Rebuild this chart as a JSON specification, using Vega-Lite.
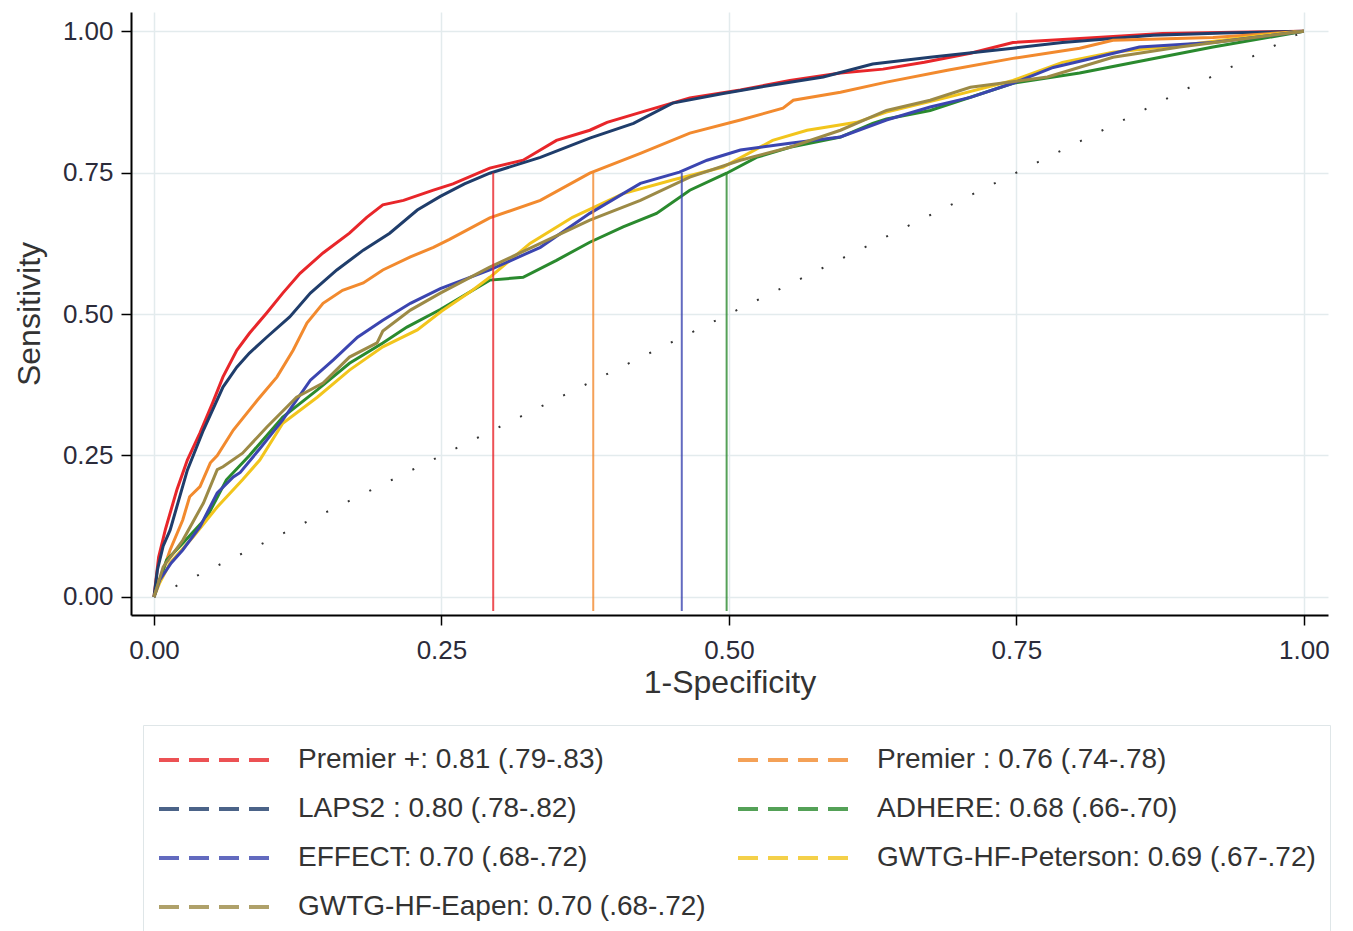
{
  "$schema": "https://vega.github.io/schema/vega-lite/v6.json",
  "width": 1197,
  "height": 603,
  "autosize": {"type": "none"},
  "padding": {"left": 131, "top": 12, "right": 25, "bottom": 316},
  "background": "white",
  "config": {"view": {"stroke": null}, "font": "Liberation Sans"},
  "datasets": {
    "curves": [
      {"m": "Premier +: 0.81 (.79-.83)", "x": 0, "y": 0},
      {"m": "Premier +: 0.81 (.79-.83)", "x": 0.004, "y": 0.07},
      {"m": "Premier +: 0.81 (.79-.83)", "x": 0.01, "y": 0.12},
      {"m": "Premier +: 0.81 (.79-.83)", "x": 0.02, "y": 0.19},
      {"m": "Premier +: 0.81 (.79-.83)", "x": 0.029, "y": 0.242},
      {"m": "Premier +: 0.81 (.79-.83)", "x": 0.04, "y": 0.29},
      {"m": "Premier +: 0.81 (.79-.83)", "x": 0.051, "y": 0.343},
      {"m": "Premier +: 0.81 (.79-.83)", "x": 0.06, "y": 0.389},
      {"m": "Premier +: 0.81 (.79-.83)", "x": 0.072, "y": 0.436},
      {"m": "Premier +: 0.81 (.79-.83)", "x": 0.083, "y": 0.466},
      {"m": "Premier +: 0.81 (.79-.83)", "x": 0.098, "y": 0.502},
      {"m": "Premier +: 0.81 (.79-.83)", "x": 0.112, "y": 0.537},
      {"m": "Premier +: 0.81 (.79-.83)", "x": 0.127, "y": 0.572},
      {"m": "Premier +: 0.81 (.79-.83)", "x": 0.147, "y": 0.608},
      {"m": "Premier +: 0.81 (.79-.83)", "x": 0.17, "y": 0.643},
      {"m": "Premier +: 0.81 (.79-.83)", "x": 0.185, "y": 0.671},
      {"m": "Premier +: 0.81 (.79-.83)", "x": 0.199, "y": 0.693},
      {"m": "Premier +: 0.81 (.79-.83)", "x": 0.217, "y": 0.701},
      {"m": "Premier +: 0.81 (.79-.83)", "x": 0.243, "y": 0.719},
      {"m": "Premier +: 0.81 (.79-.83)", "x": 0.26, "y": 0.73},
      {"m": "Premier +: 0.81 (.79-.83)", "x": 0.292, "y": 0.758},
      {"m": "Premier +: 0.81 (.79-.83)", "x": 0.321, "y": 0.772},
      {"m": "Premier +: 0.81 (.79-.83)", "x": 0.35, "y": 0.807},
      {"m": "Premier +: 0.81 (.79-.83)", "x": 0.379, "y": 0.825},
      {"m": "Premier +: 0.81 (.79-.83)", "x": 0.394, "y": 0.839},
      {"m": "Premier +: 0.81 (.79-.83)", "x": 0.429, "y": 0.86},
      {"m": "Premier +: 0.81 (.79-.83)", "x": 0.466, "y": 0.882},
      {"m": "Premier +: 0.81 (.79-.83)", "x": 0.51, "y": 0.896},
      {"m": "Premier +: 0.81 (.79-.83)", "x": 0.553, "y": 0.913},
      {"m": "Premier +: 0.81 (.79-.83)", "x": 0.597, "y": 0.926},
      {"m": "Premier +: 0.81 (.79-.83)", "x": 0.634, "y": 0.933},
      {"m": "Premier +: 0.81 (.79-.83)", "x": 0.67, "y": 0.945},
      {"m": "Premier +: 0.81 (.79-.83)", "x": 0.71, "y": 0.961},
      {"m": "Premier +: 0.81 (.79-.83)", "x": 0.747, "y": 0.98},
      {"m": "Premier +: 0.81 (.79-.83)", "x": 0.82, "y": 0.989},
      {"m": "Premier +: 0.81 (.79-.83)", "x": 0.877, "y": 0.996},
      {"m": "Premier +: 0.81 (.79-.83)", "x": 0.94, "y": 0.998},
      {"m": "Premier +: 0.81 (.79-.83)", "x": 1, "y": 1},

      {"m": "LAPS2 : 0.80 (.78-.82)", "x": 0, "y": 0},
      {"m": "LAPS2 : 0.80 (.78-.82)", "x": 0.003, "y": 0.048},
      {"m": "LAPS2 : 0.80 (.78-.82)", "x": 0.008, "y": 0.09},
      {"m": "LAPS2 : 0.80 (.78-.82)", "x": 0.014, "y": 0.118},
      {"m": "LAPS2 : 0.80 (.78-.82)", "x": 0.029, "y": 0.224},
      {"m": "LAPS2 : 0.80 (.78-.82)", "x": 0.043, "y": 0.295},
      {"m": "LAPS2 : 0.80 (.78-.82)", "x": 0.06, "y": 0.371},
      {"m": "LAPS2 : 0.80 (.78-.82)", "x": 0.072, "y": 0.406},
      {"m": "LAPS2 : 0.80 (.78-.82)", "x": 0.083, "y": 0.431},
      {"m": "LAPS2 : 0.80 (.78-.82)", "x": 0.098, "y": 0.459},
      {"m": "LAPS2 : 0.80 (.78-.82)", "x": 0.118, "y": 0.495},
      {"m": "LAPS2 : 0.80 (.78-.82)", "x": 0.136, "y": 0.537},
      {"m": "LAPS2 : 0.80 (.78-.82)", "x": 0.159, "y": 0.578},
      {"m": "LAPS2 : 0.80 (.78-.82)", "x": 0.182, "y": 0.613},
      {"m": "LAPS2 : 0.80 (.78-.82)", "x": 0.205, "y": 0.643},
      {"m": "LAPS2 : 0.80 (.78-.82)", "x": 0.229, "y": 0.684},
      {"m": "LAPS2 : 0.80 (.78-.82)", "x": 0.249, "y": 0.708},
      {"m": "LAPS2 : 0.80 (.78-.82)", "x": 0.27, "y": 0.73},
      {"m": "LAPS2 : 0.80 (.78-.82)", "x": 0.292, "y": 0.749},
      {"m": "LAPS2 : 0.80 (.78-.82)", "x": 0.336, "y": 0.777},
      {"m": "LAPS2 : 0.80 (.78-.82)", "x": 0.379, "y": 0.811},
      {"m": "LAPS2 : 0.80 (.78-.82)", "x": 0.417, "y": 0.837},
      {"m": "LAPS2 : 0.80 (.78-.82)", "x": 0.451, "y": 0.873},
      {"m": "LAPS2 : 0.80 (.78-.82)", "x": 0.495, "y": 0.89},
      {"m": "LAPS2 : 0.80 (.78-.82)", "x": 0.538, "y": 0.905},
      {"m": "LAPS2 : 0.80 (.78-.82)", "x": 0.582, "y": 0.919},
      {"m": "LAPS2 : 0.80 (.78-.82)", "x": 0.625, "y": 0.942},
      {"m": "LAPS2 : 0.80 (.78-.82)", "x": 0.675, "y": 0.954},
      {"m": "LAPS2 : 0.80 (.78-.82)", "x": 0.747, "y": 0.97},
      {"m": "LAPS2 : 0.80 (.78-.82)", "x": 0.79, "y": 0.98},
      {"m": "LAPS2 : 0.80 (.78-.82)", "x": 0.869, "y": 0.993},
      {"m": "LAPS2 : 0.80 (.78-.82)", "x": 0.93, "y": 0.997},
      {"m": "LAPS2 : 0.80 (.78-.82)", "x": 1, "y": 1},

      {"m": "Premier : 0.76 (.74-.78)", "x": 0, "y": 0},
      {"m": "Premier : 0.76 (.74-.78)", "x": 0.005, "y": 0.03},
      {"m": "Premier : 0.76 (.74-.78)", "x": 0.014, "y": 0.083},
      {"m": "Premier : 0.76 (.74-.78)", "x": 0.025, "y": 0.136},
      {"m": "Premier : 0.76 (.74-.78)", "x": 0.031, "y": 0.177},
      {"m": "Premier : 0.76 (.74-.78)", "x": 0.04, "y": 0.195},
      {"m": "Premier : 0.76 (.74-.78)", "x": 0.049, "y": 0.237},
      {"m": "Premier : 0.76 (.74-.78)", "x": 0.055, "y": 0.25},
      {"m": "Premier : 0.76 (.74-.78)", "x": 0.069, "y": 0.295},
      {"m": "Premier : 0.76 (.74-.78)", "x": 0.09, "y": 0.348},
      {"m": "Premier : 0.76 (.74-.78)", "x": 0.107, "y": 0.389},
      {"m": "Premier : 0.76 (.74-.78)", "x": 0.121, "y": 0.436},
      {"m": "Premier : 0.76 (.74-.78)", "x": 0.133, "y": 0.484},
      {"m": "Premier : 0.76 (.74-.78)", "x": 0.147, "y": 0.519},
      {"m": "Premier : 0.76 (.74-.78)", "x": 0.164, "y": 0.542},
      {"m": "Premier : 0.76 (.74-.78)", "x": 0.182, "y": 0.555},
      {"m": "Premier : 0.76 (.74-.78)", "x": 0.199, "y": 0.578},
      {"m": "Premier : 0.76 (.74-.78)", "x": 0.223, "y": 0.601},
      {"m": "Premier : 0.76 (.74-.78)", "x": 0.243, "y": 0.618},
      {"m": "Premier : 0.76 (.74-.78)", "x": 0.257, "y": 0.632},
      {"m": "Premier : 0.76 (.74-.78)", "x": 0.292, "y": 0.67},
      {"m": "Premier : 0.76 (.74-.78)", "x": 0.336, "y": 0.701},
      {"m": "Premier : 0.76 (.74-.78)", "x": 0.379, "y": 0.749},
      {"m": "Premier : 0.76 (.74-.78)", "x": 0.423, "y": 0.784},
      {"m": "Premier : 0.76 (.74-.78)", "x": 0.466, "y": 0.82},
      {"m": "Premier : 0.76 (.74-.78)", "x": 0.51, "y": 0.843},
      {"m": "Premier : 0.76 (.74-.78)", "x": 0.547, "y": 0.864},
      {"m": "Premier : 0.76 (.74-.78)", "x": 0.556, "y": 0.878},
      {"m": "Premier : 0.76 (.74-.78)", "x": 0.597, "y": 0.892},
      {"m": "Premier : 0.76 (.74-.78)", "x": 0.637, "y": 0.91},
      {"m": "Premier : 0.76 (.74-.78)", "x": 0.69, "y": 0.931},
      {"m": "Premier : 0.76 (.74-.78)", "x": 0.747, "y": 0.952},
      {"m": "Premier : 0.76 (.74-.78)", "x": 0.805, "y": 0.97},
      {"m": "Premier : 0.76 (.74-.78)", "x": 0.834, "y": 0.984},
      {"m": "Premier : 0.76 (.74-.78)", "x": 0.921, "y": 0.989},
      {"m": "Premier : 0.76 (.74-.78)", "x": 1, "y": 1},

      {"m": "ADHERE: 0.68 (.66-.70)", "x": 0, "y": 0},
      {"m": "ADHERE: 0.68 (.66-.70)", "x": 0.011, "y": 0.065},
      {"m": "ADHERE: 0.68 (.66-.70)", "x": 0.025, "y": 0.095},
      {"m": "ADHERE: 0.68 (.66-.70)", "x": 0.046, "y": 0.141},
      {"m": "ADHERE: 0.68 (.66-.70)", "x": 0.063, "y": 0.207},
      {"m": "ADHERE: 0.68 (.66-.70)", "x": 0.083, "y": 0.25},
      {"m": "ADHERE: 0.68 (.66-.70)", "x": 0.112, "y": 0.318},
      {"m": "ADHERE: 0.68 (.66-.70)", "x": 0.142, "y": 0.366},
      {"m": "ADHERE: 0.68 (.66-.70)", "x": 0.17, "y": 0.413},
      {"m": "ADHERE: 0.68 (.66-.70)", "x": 0.199, "y": 0.449},
      {"m": "ADHERE: 0.68 (.66-.70)", "x": 0.22, "y": 0.477},
      {"m": "ADHERE: 0.68 (.66-.70)", "x": 0.249, "y": 0.508},
      {"m": "ADHERE: 0.68 (.66-.70)", "x": 0.292, "y": 0.56},
      {"m": "ADHERE: 0.68 (.66-.70)", "x": 0.321, "y": 0.565},
      {"m": "ADHERE: 0.68 (.66-.70)", "x": 0.35, "y": 0.595},
      {"m": "ADHERE: 0.68 (.66-.70)", "x": 0.379, "y": 0.627},
      {"m": "ADHERE: 0.68 (.66-.70)", "x": 0.408, "y": 0.654},
      {"m": "ADHERE: 0.68 (.66-.70)", "x": 0.437, "y": 0.678},
      {"m": "ADHERE: 0.68 (.66-.70)", "x": 0.466, "y": 0.719},
      {"m": "ADHERE: 0.68 (.66-.70)", "x": 0.498, "y": 0.749},
      {"m": "ADHERE: 0.68 (.66-.70)", "x": 0.524, "y": 0.777},
      {"m": "ADHERE: 0.68 (.66-.70)", "x": 0.553, "y": 0.795},
      {"m": "ADHERE: 0.68 (.66-.70)", "x": 0.597, "y": 0.813},
      {"m": "ADHERE: 0.68 (.66-.70)", "x": 0.625, "y": 0.837},
      {"m": "ADHERE: 0.68 (.66-.70)", "x": 0.637, "y": 0.845},
      {"m": "ADHERE: 0.68 (.66-.70)", "x": 0.675, "y": 0.86},
      {"m": "ADHERE: 0.68 (.66-.70)", "x": 0.747, "y": 0.908},
      {"m": "ADHERE: 0.68 (.66-.70)", "x": 0.805, "y": 0.926},
      {"m": "ADHERE: 0.68 (.66-.70)", "x": 0.863, "y": 0.949},
      {"m": "ADHERE: 0.68 (.66-.70)", "x": 0.921, "y": 0.972},
      {"m": "ADHERE: 0.68 (.66-.70)", "x": 1, "y": 1},

      {"m": "GWTG-HF-Peterson: 0.69 (.67-.72)", "x": 0, "y": 0},
      {"m": "GWTG-HF-Peterson: 0.69 (.67-.72)", "x": 0.005, "y": 0.025},
      {"m": "GWTG-HF-Peterson: 0.69 (.67-.72)", "x": 0.014, "y": 0.06},
      {"m": "GWTG-HF-Peterson: 0.69 (.67-.72)", "x": 0.034, "y": 0.106},
      {"m": "GWTG-HF-Peterson: 0.69 (.67-.72)", "x": 0.055, "y": 0.159},
      {"m": "GWTG-HF-Peterson: 0.69 (.67-.72)", "x": 0.077, "y": 0.207},
      {"m": "GWTG-HF-Peterson: 0.69 (.67-.72)", "x": 0.092, "y": 0.242},
      {"m": "GWTG-HF-Peterson: 0.69 (.67-.72)", "x": 0.112, "y": 0.307},
      {"m": "GWTG-HF-Peterson: 0.69 (.67-.72)", "x": 0.142, "y": 0.353},
      {"m": "GWTG-HF-Peterson: 0.69 (.67-.72)", "x": 0.17, "y": 0.401},
      {"m": "GWTG-HF-Peterson: 0.69 (.67-.72)", "x": 0.199, "y": 0.442},
      {"m": "GWTG-HF-Peterson: 0.69 (.67-.72)", "x": 0.229, "y": 0.472},
      {"m": "GWTG-HF-Peterson: 0.69 (.67-.72)", "x": 0.25, "y": 0.505},
      {"m": "GWTG-HF-Peterson: 0.69 (.67-.72)", "x": 0.277, "y": 0.542},
      {"m": "GWTG-HF-Peterson: 0.69 (.67-.72)", "x": 0.292, "y": 0.565},
      {"m": "GWTG-HF-Peterson: 0.69 (.67-.72)", "x": 0.327, "y": 0.625},
      {"m": "GWTG-HF-Peterson: 0.69 (.67-.72)", "x": 0.364, "y": 0.671},
      {"m": "GWTG-HF-Peterson: 0.69 (.67-.72)", "x": 0.408, "y": 0.713},
      {"m": "GWTG-HF-Peterson: 0.69 (.67-.72)", "x": 0.451, "y": 0.737},
      {"m": "GWTG-HF-Peterson: 0.69 (.67-.72)", "x": 0.495, "y": 0.76},
      {"m": "GWTG-HF-Peterson: 0.69 (.67-.72)", "x": 0.538, "y": 0.807},
      {"m": "GWTG-HF-Peterson: 0.69 (.67-.72)", "x": 0.568, "y": 0.825},
      {"m": "GWTG-HF-Peterson: 0.69 (.67-.72)", "x": 0.611, "y": 0.839},
      {"m": "GWTG-HF-Peterson: 0.69 (.67-.72)", "x": 0.637, "y": 0.857},
      {"m": "GWTG-HF-Peterson: 0.69 (.67-.72)", "x": 0.69, "y": 0.883},
      {"m": "GWTG-HF-Peterson: 0.69 (.67-.72)", "x": 0.747, "y": 0.913},
      {"m": "GWTG-HF-Peterson: 0.69 (.67-.72)", "x": 0.79, "y": 0.945},
      {"m": "GWTG-HF-Peterson: 0.69 (.67-.72)", "x": 0.834, "y": 0.963},
      {"m": "GWTG-HF-Peterson: 0.69 (.67-.72)", "x": 0.892, "y": 0.975},
      {"m": "GWTG-HF-Peterson: 0.69 (.67-.72)", "x": 0.964, "y": 0.993},
      {"m": "GWTG-HF-Peterson: 0.69 (.67-.72)", "x": 1, "y": 1},

      {"m": "EFFECT: 0.70 (.68-.72)", "x": 0, "y": 0},
      {"m": "EFFECT: 0.70 (.68-.72)", "x": 0.005, "y": 0.03},
      {"m": "EFFECT: 0.70 (.68-.72)", "x": 0.015, "y": 0.06},
      {"m": "EFFECT: 0.70 (.68-.72)", "x": 0.025, "y": 0.083},
      {"m": "EFFECT: 0.70 (.68-.72)", "x": 0.04, "y": 0.124},
      {"m": "EFFECT: 0.70 (.68-.72)", "x": 0.055, "y": 0.184},
      {"m": "EFFECT: 0.70 (.68-.72)", "x": 0.069, "y": 0.212},
      {"m": "EFFECT: 0.70 (.68-.72)", "x": 0.075, "y": 0.22},
      {"m": "EFFECT: 0.70 (.68-.72)", "x": 0.092, "y": 0.262},
      {"m": "EFFECT: 0.70 (.68-.72)", "x": 0.112, "y": 0.313},
      {"m": "EFFECT: 0.70 (.68-.72)", "x": 0.136, "y": 0.383},
      {"m": "EFFECT: 0.70 (.68-.72)", "x": 0.156, "y": 0.419},
      {"m": "EFFECT: 0.70 (.68-.72)", "x": 0.177, "y": 0.459},
      {"m": "EFFECT: 0.70 (.68-.72)", "x": 0.199, "y": 0.489},
      {"m": "EFFECT: 0.70 (.68-.72)", "x": 0.223, "y": 0.519},
      {"m": "EFFECT: 0.70 (.68-.72)", "x": 0.249, "y": 0.545},
      {"m": "EFFECT: 0.70 (.68-.72)", "x": 0.292, "y": 0.578},
      {"m": "EFFECT: 0.70 (.68-.72)", "x": 0.336, "y": 0.618},
      {"m": "EFFECT: 0.70 (.68-.72)", "x": 0.379, "y": 0.678},
      {"m": "EFFECT: 0.70 (.68-.72)", "x": 0.423, "y": 0.731},
      {"m": "EFFECT: 0.70 (.68-.72)", "x": 0.457, "y": 0.751},
      {"m": "EFFECT: 0.70 (.68-.72)", "x": 0.481, "y": 0.772},
      {"m": "EFFECT: 0.70 (.68-.72)", "x": 0.51, "y": 0.79},
      {"m": "EFFECT: 0.70 (.68-.72)", "x": 0.553, "y": 0.802},
      {"m": "EFFECT: 0.70 (.68-.72)", "x": 0.597, "y": 0.813},
      {"m": "EFFECT: 0.70 (.68-.72)", "x": 0.637, "y": 0.843},
      {"m": "EFFECT: 0.70 (.68-.72)", "x": 0.675, "y": 0.866},
      {"m": "EFFECT: 0.70 (.68-.72)", "x": 0.71, "y": 0.883},
      {"m": "EFFECT: 0.70 (.68-.72)", "x": 0.747, "y": 0.908},
      {"m": "EFFECT: 0.70 (.68-.72)", "x": 0.782, "y": 0.936},
      {"m": "EFFECT: 0.70 (.68-.72)", "x": 0.82, "y": 0.954},
      {"m": "EFFECT: 0.70 (.68-.72)", "x": 0.857, "y": 0.972},
      {"m": "EFFECT: 0.70 (.68-.72)", "x": 0.921, "y": 0.98},
      {"m": "EFFECT: 0.70 (.68-.72)", "x": 1, "y": 1},

      {"m": "GWTG-HF-Eapen: 0.70 (.68-.72)", "x": 0, "y": 0},
      {"m": "GWTG-HF-Eapen: 0.70 (.68-.72)", "x": 0.008, "y": 0.053},
      {"m": "GWTG-HF-Eapen: 0.70 (.68-.72)", "x": 0.025, "y": 0.1},
      {"m": "GWTG-HF-Eapen: 0.70 (.68-.72)", "x": 0.043, "y": 0.166},
      {"m": "GWTG-HF-Eapen: 0.70 (.68-.72)", "x": 0.055, "y": 0.225},
      {"m": "GWTG-HF-Eapen: 0.70 (.68-.72)", "x": 0.06, "y": 0.23},
      {"m": "GWTG-HF-Eapen: 0.70 (.68-.72)", "x": 0.077, "y": 0.254},
      {"m": "GWTG-HF-Eapen: 0.70 (.68-.72)", "x": 0.098, "y": 0.3},
      {"m": "GWTG-HF-Eapen: 0.70 (.68-.72)", "x": 0.124, "y": 0.353},
      {"m": "GWTG-HF-Eapen: 0.70 (.68-.72)", "x": 0.147, "y": 0.378},
      {"m": "GWTG-HF-Eapen: 0.70 (.68-.72)", "x": 0.17, "y": 0.424},
      {"m": "GWTG-HF-Eapen: 0.70 (.68-.72)", "x": 0.194, "y": 0.449},
      {"m": "GWTG-HF-Eapen: 0.70 (.68-.72)", "x": 0.199, "y": 0.47},
      {"m": "GWTG-HF-Eapen: 0.70 (.68-.72)", "x": 0.223, "y": 0.507},
      {"m": "GWTG-HF-Eapen: 0.70 (.68-.72)", "x": 0.249, "y": 0.537},
      {"m": "GWTG-HF-Eapen: 0.70 (.68-.72)", "x": 0.292, "y": 0.583},
      {"m": "GWTG-HF-Eapen: 0.70 (.68-.72)", "x": 0.336, "y": 0.625},
      {"m": "GWTG-HF-Eapen: 0.70 (.68-.72)", "x": 0.379, "y": 0.666},
      {"m": "GWTG-HF-Eapen: 0.70 (.68-.72)", "x": 0.423, "y": 0.701},
      {"m": "GWTG-HF-Eapen: 0.70 (.68-.72)", "x": 0.466, "y": 0.742},
      {"m": "GWTG-HF-Eapen: 0.70 (.68-.72)", "x": 0.51, "y": 0.772},
      {"m": "GWTG-HF-Eapen: 0.70 (.68-.72)", "x": 0.553, "y": 0.795},
      {"m": "GWTG-HF-Eapen: 0.70 (.68-.72)", "x": 0.597, "y": 0.825},
      {"m": "GWTG-HF-Eapen: 0.70 (.68-.72)", "x": 0.637, "y": 0.86},
      {"m": "GWTG-HF-Eapen: 0.70 (.68-.72)", "x": 0.675, "y": 0.878},
      {"m": "GWTG-HF-Eapen: 0.70 (.68-.72)", "x": 0.71, "y": 0.901},
      {"m": "GWTG-HF-Eapen: 0.70 (.68-.72)", "x": 0.777, "y": 0.919},
      {"m": "GWTG-HF-Eapen: 0.70 (.68-.72)", "x": 0.834, "y": 0.954},
      {"m": "GWTG-HF-Eapen: 0.70 (.68-.72)", "x": 0.892, "y": 0.972},
      {"m": "GWTG-HF-Eapen: 0.70 (.68-.72)", "x": 1, "y": 1}
    ],
    "cutoffs": [
      {"m": "Premier +: 0.81 (.79-.83)", "x": 0.295},
      {"m": "Premier : 0.76 (.74-.78)", "x": 0.382},
      {"m": "EFFECT: 0.70 (.68-.72)", "x": 0.459},
      {"m": "ADHERE: 0.68 (.66-.70)", "x": 0.498}
    ],
    "diag": [{"x": 0, "y": 0, "x2": 1, "y2": 1}]
  },
  "layer": [
    {
      "data": {"name": "diag"},
      "mark": {"type": "rule", "color": "#333333", "strokeWidth": 2, "strokeDash": [2, 22]},
      "encoding": {
        "x": {"field": "x", "type": "quantitative"},
        "y": {"field": "y", "type": "quantitative"},
        "x2": {"field": "x2"},
        "y2": {"field": "y2"}
      }
    },
    {
      "data": {"name": "curves"},
      "mark": {"type": "line", "strokeWidth": 3, "interpolate": "linear"},
      "encoding": {
        "x": {
          "field": "x", "type": "quantitative",
          "scale": {"domain": [-0.02, 1.021], "nice": false, "zero": false},
          "axis": {
            "title": "1-Specificity", "values": [0, 0.25, 0.5, 0.75, 1], "format": ".2f",
            "grid": true, "gridColor": "#e3ebed", "gridWidth": 1.5,
            "domainColor": "#000000", "domainWidth": 2, "tickColor": "#000000", "tickSize": 10, "tickWidth": 1.5,
            "labelFontSize": 26, "labelColor": "#2b2b3a", "labelPadding": 12, "labelFlush": false,
            "titleFontSize": 32, "titleFontWeight": "normal", "titleColor": "#333333", "titlePadding": 4
          }
        },
        "y": {
          "field": "y", "type": "quantitative",
          "scale": {"domain": [-0.032, 1.034], "nice": false, "zero": false},
          "axis": {
            "title": "Sensitivity", "values": [0, 0.25, 0.5, 0.75, 1], "format": ".2f",
            "grid": true, "gridColor": "#e3ebed", "gridWidth": 1.5,
            "domainColor": "#000000", "domainWidth": 2, "tickColor": "#000000", "tickSize": 10, "tickWidth": 1.5,
            "labelFontSize": 26, "labelColor": "#2b2b3a", "labelPadding": 8, "labelFlush": false,
            "titleFontSize": 32, "titleFontWeight": "normal", "titleColor": "#333333", "titlePadding": 16
          }
        },
        "color": {
          "field": "m", "type": "nominal",
          "scale": {
            "domain": ["Premier +: 0.81 (.79-.83)", "LAPS2 : 0.80 (.78-.82)", "EFFECT: 0.70 (.68-.72)", "GWTG-HF-Eapen: 0.70 (.68-.72)", "Premier : 0.76 (.74-.78)", "ADHERE: 0.68 (.66-.70)", "GWTG-HF-Peterson: 0.69 (.67-.72)"],
            "range": ["#e8262a", "#1f3d6b", "#3b45b0", "#9c8a46", "#f28a2e", "#2a8a2e", "#f2c51c"]
          },
          "legend": {
            "orient": "none", "legendX": 12, "legendY": 713, "columns": 2, "title": null,
            "symbolType": "stroke", "symbolSize": 12544, "symbolStrokeWidth": 4, "symbolDash": [20, 10], "symbolOpacity": 1,
            "labelFontSize": 28, "labelColor": "#333333", "labelFont": "Liberation Sans", "labelLimit": 700,
            "labelOffset": 25, "columnPadding": 30, "rowPadding": 7, "clipHeight": 42, "padding": 14,
            "strokeColor": "#dfe6e8", "fillColor": "white"
          }
        }
      }
    },
    {
      "data": {"name": "cutoffs"},
      "mark": {"type": "rule", "strokeWidth": 2, "opacity": 0.8},
      "encoding": {
        "x": {"field": "x", "type": "quantitative"},
        "y": {"datum": 0.75},
        "y2": {"datum": -0.025},
        "color": {"field": "m", "type": "nominal"}
      }
    },
    {
      "mark": {"type": "rule", "color": "#000000", "strokeWidth": 2},
      "encoding": {"y": {"datum": 0.75}}
    }
  ]
}
